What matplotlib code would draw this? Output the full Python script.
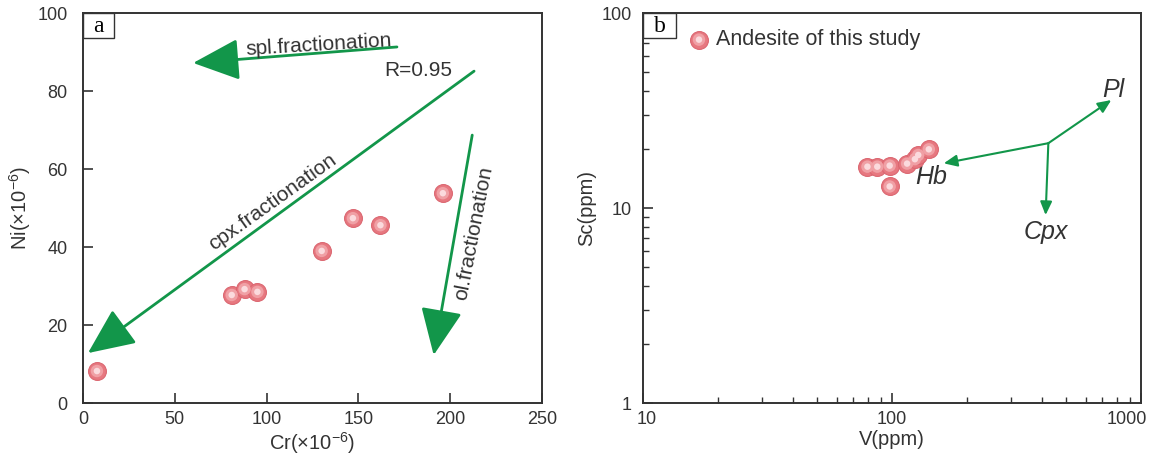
import matplotlib.pyplot as plt
from matplotlib.patches import Rectangle
from matplotlib.legend_handler import HandlerTuple
from matplotlib.ticker import LogLocator, NullFormatter
from matplotlib.transforms import ScaledTranslation

plt.rcParams['font.family'] = ['Liberation Sans', 'DejaVu Sans']
plt.rcParams['mathtext.fontset'] = 'custom'
plt.rcParams['mathtext.rm'] = 'Liberation Sans'
plt.rcParams['mathtext.it'] = 'Liberation Sans:italic'

# Cr - Ni (x10^-6)
cr = [7.6, 81, 88, 95, 130, 147, 162, 196]
ni = [8.2, 27.7, 29.2, 28.5, 39, 47.4, 45.6, 53.8]

# V - Sc (ppm)
v = [79.7, 87.3, 97.9, 97.9, 115, 123.6, 127.5, 140.6]
sc = [16.3, 16.3, 16.5, 12.9, 16.9, 17.8, 18.7, 20.0]

# fractionation vectors (start, end)
spl_vec = [(171, 91.3), (60, 87.2)]
cpx_vec = [(213, 85.1), (2.7, 12.8)]
ol_vec = [(212, 68.7), (191, 12.3)]

vec_origin = (424.6, 21.5)
hb_end = (161.4, 16.95)
cpx_end = (414, 9.2)
pl_end = (760, 35.8)

dark = '#333333'
green = '#12964a'


def spheres(ax, x, y):
    # fake shaded balls: base, lighter middle, highlight
    s1 = ax.scatter(x, y, s=165, facecolor='#e77880', edgecolor='#db6670', linewidth=0.8, zorder=5)
    s2 = ax.scatter(x, y, s=80, facecolor='#f0a0a5', edgecolor='none', zorder=6)
    s3 = ax.scatter(x, y, s=22, facecolor='#fbdadd', edgecolor='none', zorder=7)
    return (s1, s2, s3)


def style(ax):
    for sp in ax.spines.values():
        sp.set_color(dark)
        sp.set_linewidth(1.4)
    ax.tick_params(which='major', direction='in', length=7, width=1.2, colors=dark,
                   labelsize=13, labelcolor=dark, pad=6)
    ax.tick_params(which='minor', direction='in', length=4, width=1.0, colors=dark)


def panel_tag(ax, letter):
    ax.add_patch(Rectangle((0, 1 - 0.064), 0.067, 0.064, transform=ax.transAxes,
                           facecolor='white', edgecolor=dark, lw=1.0, zorder=8, clip_on=False))
    ax.text(0.0335, 1 - 0.034, letter, transform=ax.transAxes, ha='center', va='center',
            fontsize=17, family='Liberation Serif', color='black', zorder=9)


fig = plt.figure(figsize=(11.51, 4.54), dpi=100)
ax1 = fig.add_axes([0.0721, 0.1123, 0.3988, 0.8590])
ax2 = fig.add_axes([0.5586, 0.1123, 0.4327, 0.8590])

# ---- panel a ----
big_head = dict(arrowstyle='-|>,head_length=1.45,head_width=0.65', color=green, lw=2,
                mutation_scale=20, shrinkA=0, shrinkB=0)
for vec in [spl_vec, cpx_vec, ol_vec]:
    ax1.annotate('', xy=vec[1], xytext=vec[0], arrowprops=big_head, zorder=3)

spheres(ax1, cr, ni)

ax1.text(128.5, 91.8, 'spl.fractionation', fontsize=15, color=dark, rotation=3.5,
         ha='center', va='center')
ax1.text(182.5, 85.3, 'R=0.95', fontsize=15, color=dark, ha='center', va='center')
ax1.text(103.5, 51.5, 'cpx.fractionation', fontsize=15, color=dark, rotation=35.5,
         ha='center', va='center')
ax1.text(213, 43.6, 'ol.fractionation', fontsize=15, color=dark, rotation=79,
         ha='center', va='center')

ax1.set_xlim(0, 250)
ax1.set_ylim(0, 100)
ax1.set_xticks([0, 50, 100, 150, 200, 250])
ax1.set_yticks([0, 20, 40, 60, 80, 100])
ax1.set_xlabel(r'Cr($\times$10$^{-6}$)', fontsize=14.5, color=dark, labelpad=1)
ax1.set_ylabel(r'Ni($\times$10$^{-6}$)', fontsize=14.5, color=dark, labelpad=3)
style(ax1)
ax1.tick_params(axis='y', pad=11)
panel_tag(ax1, 'a')

# ---- panel b ----
ax2.set_xscale('log')
ax2.set_yscale('log')
small_head = dict(arrowstyle='-|>,head_length=0.8,head_width=0.35', color=green, lw=1.5,
                  mutation_scale=10, shrinkA=0, shrinkB=0)
for end in [hb_end, cpx_end, pl_end]:
    ax2.annotate('', xy=end, xytext=vec_origin, arrowprops=small_head, zorder=3)

balls = spheres(ax2, v, sc)

ax2.text(144, 14.4, 'Hb', fontsize=18, style='italic', color=dark, ha='center', va='center')
ax2.text(414, 7.5, 'Cpx', fontsize=18, style='italic', color=dark, ha='center', va='center')
ax2.text(776, 40.2, 'Pl', fontsize=18, style='italic', color=dark, ha='center', va='center')

ax2.set_xlim(10, 1000)
ax2.set_ylim(1, 100)
ax2.xaxis.set_minor_locator(LogLocator(base=10, subs=range(2, 10)))
ax2.yaxis.set_minor_locator(LogLocator(base=10, subs=range(2, 10)))
ax2.xaxis.set_minor_formatter(NullFormatter())
ax2.yaxis.set_minor_formatter(NullFormatter())
ax2.set_xticks([10, 100, 1000])
ax2.set_xticklabels(['10', '100', '1000'])
ax2.set_yticks([1, 10, 100])
ax2.set_yticklabels(['1', '10', '100'])
ax2.set_xlabel('V(ppm)', fontsize=14.5, color=dark, labelpad=1)
ax2.set_ylabel('Sc(ppm)', fontsize=14.5, color=dark, labelpad=4)
style(ax2)
ax2.tick_params(axis='y', which='major', pad=8)

# keep the end labels inside the frame
xl = ax2.get_xticklabels()
xl[0].set_transform(xl[0].get_transform() + ScaledTranslation(3 / 72, 0, fig.dpi_scale_trans))
xl[-1].set_transform(xl[-1].get_transform() + ScaledTranslation(-10 / 72, 0, fig.dpi_scale_trans))

ax2.legend([balls], ['Andesite of this study'], handler_map={tuple: HandlerTuple(ndivide=1)},
           loc='upper left', bbox_to_anchor=(0.052, 1.008), frameon=False, fontsize=15.5,
           handletextpad=0.3, handlelength=1.0, labelcolor=dark)
panel_tag(ax2, 'b')

plt.savefig('out.png', dpi=100)
